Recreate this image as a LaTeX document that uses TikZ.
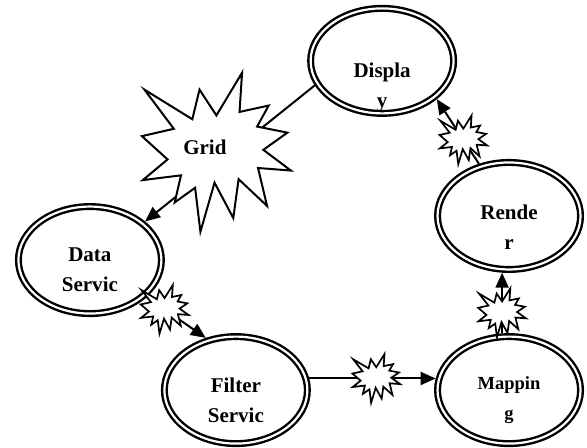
\documentclass[tikz,border=0pt]{standalone}
\usepackage{fontspec}
\setmainfont{Liberation Serif}
\usetikzlibrary{shapes.geometric,arrows.meta}

% explosion outline, points given on a 216 x 216 grid
\newdimen\boomx \newdimen\boomy \newdimen\boomw \newdimen\boomh
\newcommand\boompt[2]{\pgfpoint{\boomx+#1/216*\boomw}{\boomy+\boomh-#2/216*\boomh}}

\makeatletter
\pgfdeclareshape{explosion}{%
  \inheritsavedanchors[from=rectangle]%
  \inheritanchorborder[from=rectangle]%
  \inheritanchor[from=rectangle]{center}%
  \backgroundpath{%
    \southwest \boomx=\pgf@x \boomy=\pgf@y
    \northeast \boomw=\pgf@x \boomh=\pgf@y
    \advance\boomw by -\boomx \advance\boomh by -\boomy
    \pgfpathmoveto{\boompt{108}{58}}%
    \pgfpathlineto{\boompt{145.22}{0}}%
    \pgfpathlineto{\boompt{141.55}{53.25}}%
    \pgfpathlineto{\boompt{183.80}{44.57}}%
    \pgfpathlineto{\boompt{167.02}{73.15}}%
    \pgfpathlineto{\boompt{210.97}{81.37}}%
    \pgfpathlineto{\boompt{176.07}{104.75}}%
    \pgfpathlineto{\boompt{216}{132.90}}%
    \pgfpathlineto{\boompt{168.37}{129.42}}%
    \pgfpathlineto{\boompt{181.45}{180.95}}%
    \pgfpathlineto{\boompt{140.20}{144.57}}%
    \pgfpathlineto{\boompt{132.47}{197.37}}%
    \pgfpathlineto{\boompt{105.32}{149.35}}%
    \pgfpathlineto{\boompt{84.85}{216}}%
    \pgfpathlineto{\boompt{77.15}{156.27}}%
    \pgfpathlineto{\boompt{47.62}{176.17}}%
    \pgfpathlineto{\boompt{56.67}{139.37}}%
    \pgfpathlineto{\boompt{1.35}{145.87}}%
    \pgfpathlineto{\boompt{37.22}{117.75}}%
    \pgfpathlineto{\boompt{0}{86.15}}%
    \pgfpathlineto{\boompt{46.27}{76.17}}%
    \pgfpathlineto{\boompt{3.70}{22.95}}%
    \pgfpathlineto{\boompt{73.12}{63.20}}%
    \pgfpathlineto{\boompt{83.52}{22.95}}%
    \pgfpathclose
  }%
}
\makeatother

\tikzset{
  proc/.style={ellipse, draw, double, fill=white, line width=2.4pt, double distance=2.2pt,
    minimum width=143pt, minimum height=107pt, inner sep=0pt, outer sep=3.5pt},
  txt/.style={font=\bfseries\fontsize{21}{30}\selectfont, align=center, inner sep=0pt},
  boom/.style={explosion, draw, fill=white, line width=1.7pt, inner sep=0pt,
    minimum width=46pt, minimum height=47pt},
  bigboom/.style={boom, line width=2pt, minimum width=147pt, minimum height=157pt}
}

\begin{document}
\begin{tikzpicture}[line width=2pt, >={Triangle[length=15pt,width=13pt]}]
\useasboundingbox (0,0) rectangle (20.63,-15.71);

\node[proc, minimum height=105pt] (dis) at (13.43,-2.14) {};
\node[proc] (ren) at (17.89,-7.59) {};
\node[proc] (dat) at (3.16,-9.14) {};
\node[proc] (fil) at (8.29,-13.71) {};
\node[proc] (map) at (17.89,-13.71) {};

\draw [->] (dis.200) -- node[bigboom, xshift=-13.5pt, yshift=1.2pt] (grid) {} (dat.35);
\draw [->] (dat.-33) -- node[boom, pos=.3] (s1) {} (fil.120);
\draw [->] (fil.9) -- node[boom, pos=.53] (s2) {} (map.171);
\draw [->] (map.97) -- node[boom, pos=.34] (s3) {} (ren.263);
\draw [->] (ren.120) -- node[boom, pos=.37] (s4) {} (dis.325);

\node[txt] (gridtx) at ([shift={(-11.5pt,4.5pt)}]grid.center) {Grid};
\node[txt] (distx) at ([yshift=-27pt]dis.center) {Displa\\y};
\node[txt] (rentx) at ([yshift=-11pt]ren.center) {Rende\\r};
\node[txt] (dattx) at ([yshift=-10pt]dat.center) {Data\\Servic};
\node[txt] (filtx) at ([yshift=-10pt]fil.center) {Filter\\Servic};
\node[txt, font=\bfseries\fontsize{18.5}{30}\selectfont] (maptx) at ([yshift=-10pt]map.center) {Mappin\\g};
\end{tikzpicture}
\end{document}
